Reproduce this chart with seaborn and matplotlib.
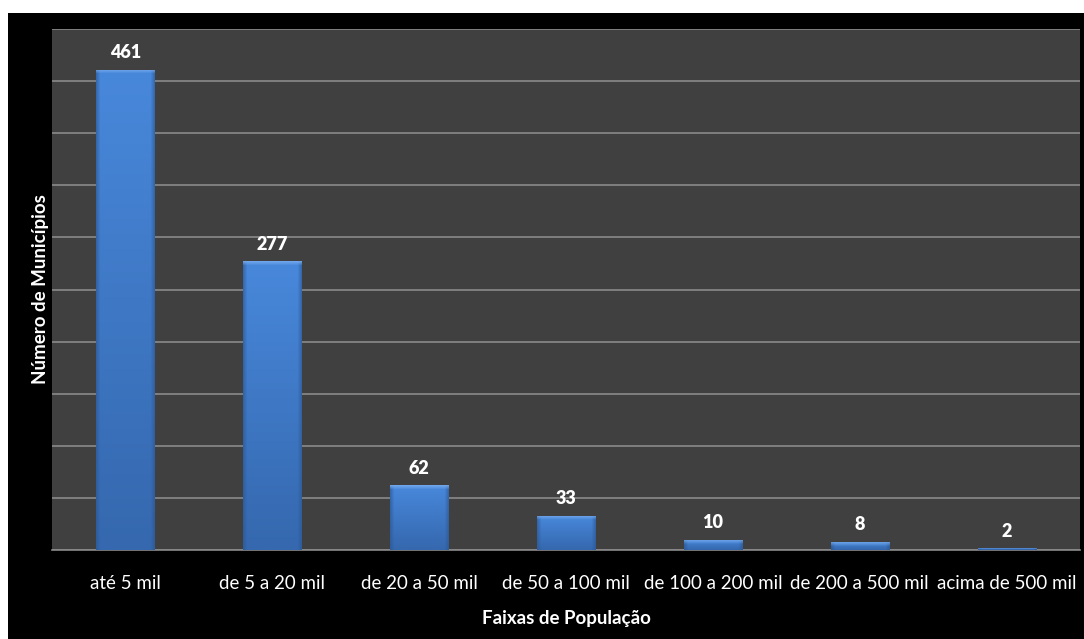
import matplotlib
matplotlib.use("Agg")
import matplotlib.pyplot as plt
import seaborn as sns
import numpy as np
import pandas as pd
from matplotlib.patches import Rectangle

categories = ["até 5 mil", "de 5 a 20 mil", "de 20 a 50 mil", "de 50 a 100 mil",
              "de 100 a 200 mil", "de 200 a 500 mil", "acima de 500 mil"]
values = [461, 277, 62, 33, 10, 8, 2]

sns.set_theme(style="dark")
plt.rcParams['font.family'] = ['Lato', 'DejaVu Sans']

df = pd.DataFrame({"faixa": categories, "n": values})

W, H = 1084, 639
fig = plt.figure(figsize=(W / 100, H / 100), dpi=100, facecolor="white")
bg = Rectangle((8 / W, 0), 1 - 8 / W, (H - 13) / H,
               transform=fig.transFigure, facecolor="black",
               edgecolor="none", zorder=-10)
fig.add_artist(bg)
ax = fig.add_axes([52 / W, 1 - 550 / H, (1080 - 52) / W, (550 - 29) / H])
ax.set_zorder(1)
ax.set_facecolor("#404040")

sns.barplot(data=df, x="faixa", y="n", ax=ax, color="#4180d2", width=0.395,
            saturation=1, edgecolor="none", linewidth=0, zorder=3)

ax.set_ylim(0, 500)
ax.set_xlim(-0.5, len(categories) - 0.5)

# bevel/gradient shading on each bar
top_c = np.array([0x48, 0x88, 0xdb]) / 255
bot_c = np.array([0x35, 0x68, 0xae]) / 255
bevel_c = np.array([0x7a, 0xae, 0xf0]) / 255
side_c = np.array([0x2a, 0x55, 0x90]) / 255
px_per_unit = 521 / 500
bar_px_w = 58
for p in list(ax.patches):
    x0, y0 = p.get_x(), p.get_y()
    w, h = p.get_width(), p.get_height()
    nr = max(int(round(h * px_per_unit)), 2)
    nc = bar_px_w
    t = np.linspace(0, 1, nr)[:, None, None]
    img = top_c * (1 - t) + bot_c * t
    img = np.repeat(img, nc, axis=1)
    u = np.linspace(0, 1, nc)
    edge = np.clip(1 - np.minimum(u, 1 - u) * nc / 4, 0, 1)[None, :, None]
    img = img * (1 - 0.6 * edge) + side_c * 0.6 * edge
    band = min(4, nr // 2)
    for r in range(band):
        a = 1 - r / band
        img[r] = img[r] * (1 - 0.8 * a) + bevel_c * 0.8 * a
    im = ax.imshow(img, extent=[x0, x0 + w, y0, y0 + h], aspect="auto",
                   zorder=3.5, interpolation="bilinear")
    im.set_clip_path(p)

ax.set_ylim(0, 500)
ax.set_xlim(-0.5, len(categories) - 0.5)
ax.set_yticks(np.arange(0, 501, 50))
ax.set_yticklabels([])
ax.yaxis.grid(True, color="#8a8a8a", linewidth=1.2)
ax.xaxis.grid(False)
ax.set_axisbelow(True)

for c in ax.containers:
    ax.bar_label(c, labels=[str(v) for v in values], padding=6, color="white",
                 fontsize=13, fontweight="heavy", zorder=5)

ax.set_xticks(np.arange(-0.5, len(categories), 1), minor=True)
ax.tick_params(axis="x", which="major", length=0, colors="white", labelsize=13.5, pad=18)
ax.tick_params(axis="x", which="minor", length=6, color="#8a8a8a", width=1, direction="out")
ax.tick_params(axis="y", length=0)

for s in ["top", "right", "left"]:
    ax.spines[s].set_visible(False)
ax.spines["bottom"].set_color("#8a8a8a")
ax.spines["bottom"].set_linewidth(1.2)

ax.set_xlabel("Faixas de População", color="white", fontsize=13.5,
              fontweight="bold", labelpad=13)
ax.set_ylabel("Número de Municípios", color="white", fontsize=13.5,
              fontweight="bold", labelpad=-1)

fig.savefig("out.png", dpi=100, facecolor="white")
